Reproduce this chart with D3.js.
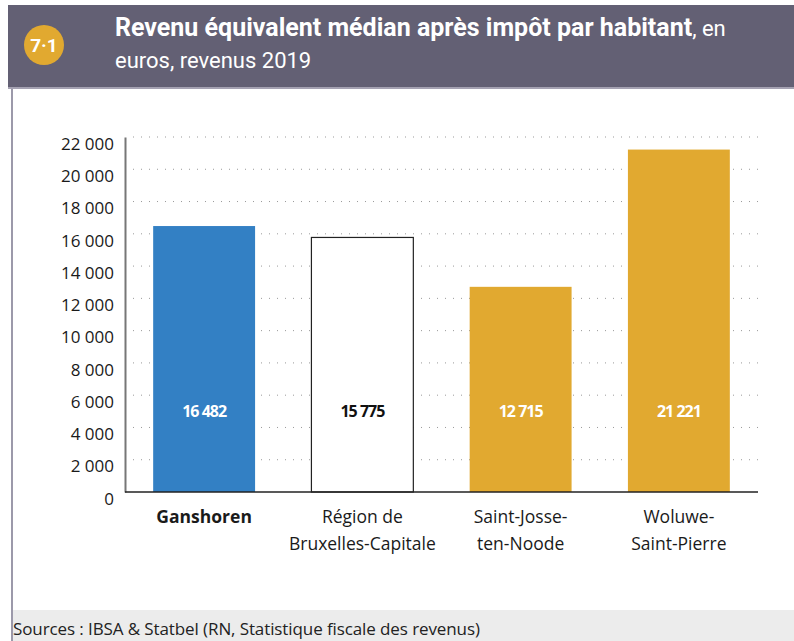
<!DOCTYPE html>
<html>
<head>
<meta charset="utf-8">
<script src="https://cdn.jsdelivr.net/npm/d3@7"></script>
<style>
  body { margin: 0; background: #fff; }
  svg text { font-family: "Open Sans", "Noto Sans", sans-serif; }
</style>
</head>
<body>
<svg id="chart" width="794" height="641"></svg>
<script>
// Chart data
const categories = ["Ganshoren", "Région de Bruxelles-Capitale", "Saint-Josse-ten-Noode", "Woluwe-Saint-Pierre"];
const labelLines = [["Ganshoren"], ["Région de", "Bruxelles-Capitale"], ["Saint-Josse-", "ten-Noode"], ["Woluwe-", "Saint-Pierre"]];
const values = [16482, 15775, 12715, 21221];
const yTicks = [0, 2000, 4000, 6000, 8000, 10000, 12000, 14000, 16000, 18000, 20000, 22000];

const barFill = ["#3380c4", "#ffffff", "#e1a930", "#e1a930"];
const labelFill = ["#ffffff", "#111111", "#ffffff", "#ffffff"];

const data = categories.map((c, i) => ({ name: c, lines: labelLines[i], value: values[i], i: i }));

// Margins / plot area
const margin = { top: 137, right: 36, bottom: 149, left: 125 };
const width = 794 - margin.left - margin.right;
const height = 641 - margin.top - margin.bottom;

const svg = d3.select("#chart");

// Frame: left border, header band, footer band
svg.append("line")
  .attr("x1", 12).attr("x2", 12).attr("y1", 80).attr("y2", 641)
  .attr("stroke", "#9c99aa").attr("stroke-width", 2);

svg.append("rect")
  .attr("x", 8).attr("y", 5).attr("width", 786).attr("height", 82)
  .attr("fill", "#636074");
svg.append("rect")
  .attr("x", 8).attr("y", 87).attr("width", 786).attr("height", 2)
  .attr("fill", "#a5a2b2");

svg.append("circle")
  .attr("cx", 44).attr("cy", 45).attr("r", 20)
  .attr("fill", "#e1a930");
svg.append("text")
  .attr("x", 44).attr("y", 52)
  .attr("text-anchor", "middle")
  .attr("fill", "#fff")
  .style("font-family", "Roboto, sans-serif")
  .attr("font-weight", "bold")
  .attr("font-size", 19)
  .text("7·1");

const title = svg.append("text")
  .attr("x", 115).attr("y", 36)
  .attr("fill", "#fff")
  .style("font-family", "Roboto, sans-serif")
  .attr("font-size", 22);
title.append("tspan").attr("font-weight", "bold").attr("font-size", 25)
  .text("Revenu équivalent médian après impôt par habitant");
title.append("tspan").text(", en");
svg.append("text")
  .attr("x", 115).attr("y", 68)
  .attr("fill", "#fff")
  .style("font-family", "Roboto, sans-serif")
  .attr("font-size", 22)
  .text("euros, revenus 2019");

svg.append("rect")
  .attr("x", 13).attr("y", 610).attr("width", 781).attr("height", 31)
  .attr("fill", "#ececec");
svg.append("text")
  .attr("x", 13).attr("y", 635)
  .attr("fill", "#222")
  .attr("font-size", 17)
  .attr("letter-spacing", -0.1)
  .text("Sources : IBSA & Statbel (RN, Statistique fiscale des revenus)");

// Scales
const x = d3.scaleBand()
  .domain(categories)
  .range([0, width])
  .paddingInner(0.356)
  .paddingOuter(0.178);

const y = d3.scaleLinear()
  .domain([0, 22000])
  .range([height, 0]);

const g = svg.append("g")
  .attr("transform", `translate(${margin.left},${margin.top})`);

// Dotted gridlines
g.append("g")
  .selectAll("line")
  .data(yTicks.filter((d) => d > 0))
  .join("line")
  .attr("x1", 8).attr("x2", width)
  .attr("y1", (d) => y(d)).attr("y2", (d) => y(d))
  .attr("stroke", "#999")
  .attr("stroke-width", 1)
  .attr("stroke-dasharray", "1,7");

// Y axis
const yAxis = d3.axisLeft(y)
  .tickValues(yTicks)
  .tickSize(0)
  .tickPadding(11)
  .tickFormat((d) => d3.format(",")(d).replace(/,/g, " "));

g.append("g")
  .attr("class", "y axis")
  .call(yAxis)
  .call((a) => a.select(".domain").attr("stroke", "#777").attr("stroke-width", 2))
  .call((a) => a.selectAll("text")
    .attr("dy", "0.72em")
    .attr("font-size", 17)
    .attr("fill", "#1a1a1a")
    .style("font-family", "\"Open Sans\", sans-serif"));

// Bars
g.selectAll(".bar")
  .data(data)
  .join("rect")
  .attr("class", "bar")
  .attr("x", (d) => x(d.name))
  .attr("width", x.bandwidth())
  .attr("y", (d) => y(d.value))
  .attr("height", (d) => height - y(d.value))
  .attr("fill", (d) => barFill[d.i])
  .attr("stroke", (d) => (d.i === 1 ? "#222" : "none"))
  .attr("stroke-width", 1.2);

// Baseline
g.append("line")
  .attr("x1", 0).attr("x2", width)
  .attr("y1", height).attr("y2", height)
  .attr("stroke", "#222").attr("stroke-width", 1.5);

// Value labels
g.selectAll(".val")
  .data(data)
  .join("text")
  .attr("class", "val")
  .attr("x", (d) => x(d.name) + x.bandwidth() / 2)
  .attr("y", y(5000))
  .attr("dy", "0.35em")
  .attr("text-anchor", "middle")
  .attr("font-weight", "bold")
  .attr("font-size", 16)
  .attr("letter-spacing", -1)
  .attr("fill", (d) => labelFill[d.i])
  .text((d) => d3.format(",")(d.value).replace(/,/g, " "));

// Category labels
const cat = g.selectAll(".cat")
  .data(data)
  .join("text")
  .attr("class", "cat")
  .attr("text-anchor", "middle")
  .attr("font-size", 17.5)
  .attr("fill", "#1a1a1a")
  .attr("font-weight", (d) => (d.i === 0 ? "bold" : "normal"))
  .attr("transform", (d) => `translate(${x(d.name) + x.bandwidth() / 2},${height + 31})`);

cat.selectAll("tspan")
  .data((d) => d.lines)
  .join("tspan")
  .attr("x", 0)
  .attr("y", (d, i) => i * 27)
  .text((d) => d);
</script>
</body>
</html>
